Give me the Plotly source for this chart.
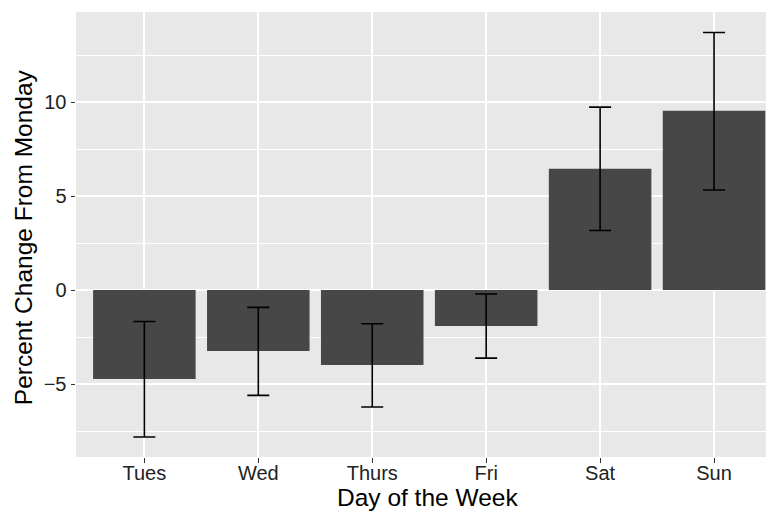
import plotly.graph_objects as go

days = ["Tues", "Wed", "Thurs", "Fri", "Sat", "Sun"]
pct_change = [-4.73, -3.24, -3.99, -1.91, 6.45, 9.54]
err_upper = [-1.67, -0.92, -1.79, -0.21, 9.73, 13.70]
err_lower = [-7.82, -5.60, -6.22, -3.62, 3.17, 5.32]

plus = [u - v for u, v in zip(err_upper, pct_change)]
minus = [v - l for v, l in zip(pct_change, err_lower)]

FONT = "Liberation Sans, Arial, Helvetica, sans-serif"

fig = go.Figure(
    go.Bar(
        x=days,
        y=pct_change,
        width=0.9,
        marker=dict(color="#474747", line=dict(width=0)),
        error_y=dict(type="data", symmetric=False, array=plus, arrayminus=minus,
                     color="black", thickness=1.6, width=11),
    )
)

fig.update_layout(
    width=766, height=512,
    margin=dict(l=76, r=0, t=12, b=55),
    paper_bgcolor="white",
    plot_bgcolor="#E8E8E8",
    showlegend=False,
    font=dict(family=FONT),
    annotations=[
        dict(text="Day of the Week", xref="paper", yref="paper", x=0.509, y=0,
             xanchor="center", yanchor="middle", yshift=-40, showarrow=False,
             font=dict(size=24.5, color="black", family=FONT)),
        dict(text="Percent Change From Monday", xref="paper", yref="paper", x=-0.0768, y=0.494,
             xanchor="center", yanchor="middle", textangle=-90, showarrow=False,
             font=dict(size=24.5, color="black", family=FONT)),
    ],
)

fig.update_xaxes(
    type="category", range=[-0.6, 5.456],
    showgrid=True, gridcolor="white", gridwidth=1.6,
    ticks="outside", ticklen=4.5, tickcolor="#333333", tickwidth=1.2,
    ticklabelstandoff=-7,
    tickfont=dict(size=20, color="#222222", family=FONT),
    showline=False, zeroline=False,
)
fig.update_yaxes(
    range=[-8.88, 14.79], tickmode="linear", tick0=0, dtick=5,
    showgrid=True, gridcolor="white", gridwidth=1.6,
    minor=dict(tick0=2.5, dtick=5, showgrid=True, gridcolor="white", gridwidth=0.8),
    ticks="outside", ticklen=4.5, tickcolor="#333333", tickwidth=1.2,
    tickfont=dict(size=20, color="#222222", family=FONT),
    showline=False, zeroline=False,
)

fig.write_html("out.html", config={"displayModeBar": False},
               post_script="document.body.style.margin='0';")
